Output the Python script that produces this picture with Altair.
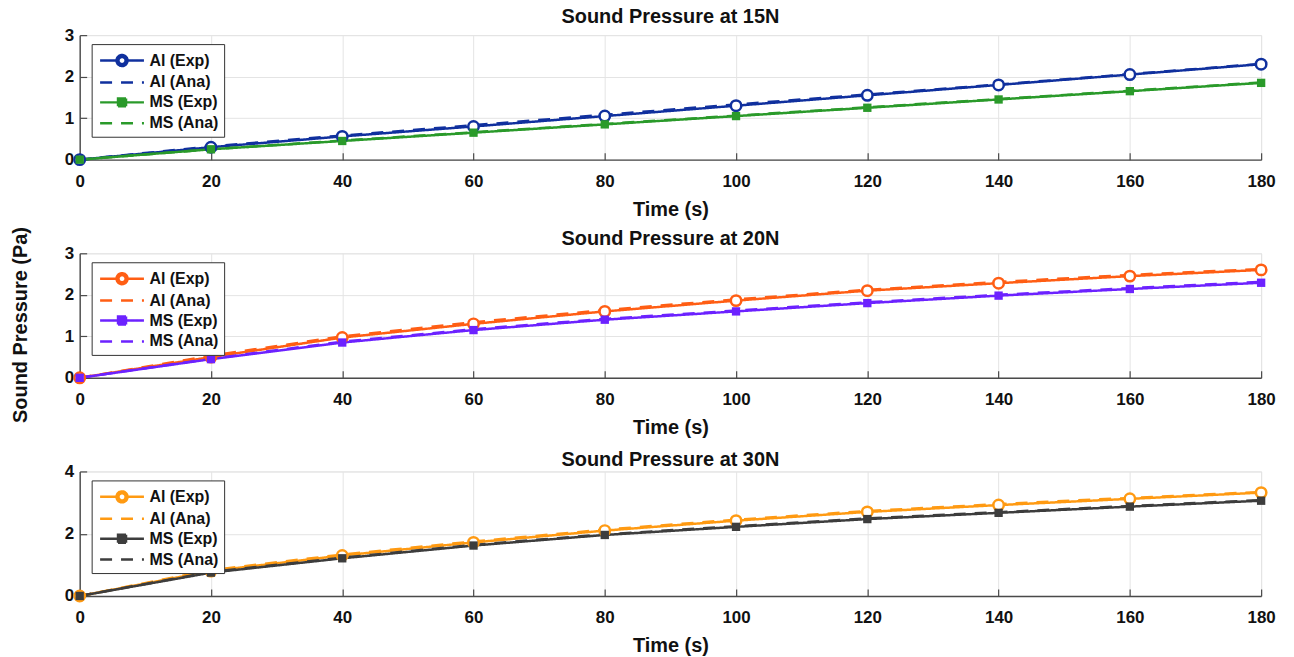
import altair as alt
import pandas as pd

# ---------------- data ----------------
time_s = [0, 20, 40, 60, 80, 100, 120, 140, 160, 180]
series_names = ["Al (Exp)", "Al (Ana)", "MS (Exp)", "MS (Ana)"]
panel_titles = ["Sound Pressure at 15N", "Sound Pressure at 20N", "Sound Pressure at 30N"]

al_exp_15 = [0, 0.30, 0.56, 0.80, 1.05, 1.30, 1.55, 1.80, 2.05, 2.30]
al_ana_15 = [0, 0.32, 0.58, 0.83, 1.08, 1.33, 1.57, 1.81, 2.06, 2.31]
ms_exp_15 = [0, 0.25, 0.45, 0.65, 0.85, 1.05, 1.25, 1.45, 1.65, 1.85]
ms_ana_15 = [0, 0.25, 0.46, 0.66, 0.86, 1.06, 1.26, 1.46, 1.66, 1.86]

al_exp_20 = [0, 0.50, 0.97, 1.30, 1.60, 1.86, 2.10, 2.28, 2.45, 2.60]
al_ana_20 = [0, 0.53, 1.00, 1.34, 1.63, 1.89, 2.12, 2.31, 2.48, 2.62]
ms_exp_20 = [0, 0.45, 0.85, 1.15, 1.40, 1.60, 1.80, 1.98, 2.14, 2.29]
ms_ana_20 = [0, 0.46, 0.87, 1.17, 1.42, 1.62, 1.82, 2.00, 2.16, 2.31]

al_exp_30 = [0, 0.80, 1.30, 1.72, 2.10, 2.42, 2.70, 2.92, 3.12, 3.32]
al_ana_30 = [0, 0.83, 1.33, 1.75, 2.13, 2.45, 2.73, 2.95, 3.15, 3.34]
ms_exp_30 = [0, 0.75, 1.21, 1.62, 1.96, 2.22, 2.47, 2.67, 2.87, 3.06]
ms_ana_30 = [0, 0.77, 1.23, 1.64, 1.98, 2.24, 2.49, 2.69, 2.89, 3.08]

x_ticks = [0, 20, 40, 60, 80, 100, 120, 140, 160, 180]
y_ticks = [[0, 1, 2, 3], [0, 1, 2, 3], [0, 2, 4]]
y_max = [3, 3, 4]

panel_colors = [
    ["#10309e", "#2a9a2a"],   # 15N: blue, green
    ["#ff5e14", "#6c22ff"],   # 20N: orange-red, violet
    ["#ff9a12", "#3d3d3d"],   # 30N: orange, dark gray
]

panel_values = [
    [al_exp_15, al_ana_15, ms_exp_15, ms_ana_15],
    [al_exp_20, al_ana_20, ms_exp_20, ms_ana_20],
    [al_exp_30, al_ana_30, ms_exp_30, ms_ana_30],
]

rows = []
for p, vals in enumerate(panel_values):
    for name, arr in zip(series_names, vals):
        for t, v in zip(time_s, arr):
            rows.append({"panel": p, "series": name, "time": t, "value": v})
df = pd.DataFrame(rows)

FONT = "Liberation Sans"
W, H = 1186, 125
title_dy = [0, 22, 7]

# legend symbols: line with marker (ring = two circles of opposite winding,
# square filled by nested strokes)
P_CIRCLE = ("M-2.2,0H-0.55M0.55,0H2.2"
            "M-0.55,0A0.55,0.55,0,1,1,0.55,0A0.55,0.55,0,1,1,-0.55,0Z"
            "M-0.36,0A0.36,0.36,0,1,0,0.36,0A0.36,0.36,0,1,0,-0.36,0Z")
P_LINE = "M-2.2,0H2.2"
P_SQUARE = ("M-2.2,0H2.2M-0.4,-0.4H0.4V0.4H-0.4Z"
            "M-0.22,-0.22H0.22V0.22H-0.22ZM-0.05,-0.05H0.05V0.05H-0.05Z")


def make_panel(p):
    c1, c2 = panel_colors[p]
    color_scale = alt.Scale(domain=series_names, range=[c1, c1, c2, c2])
    dash_scale = alt.Scale(domain=series_names, range=[[1, 0], [12, 9], [1, 0], [12, 9]])
    shape_scale = alt.Scale(domain=series_names, range=[P_CIRCLE, P_LINE, P_SQUARE, P_LINE])

    leg = alt.Legend(
        title=None, orient="none", legendX=12, legendY=9,
        labelFont=FONT, labelFontSize=16, labelFontWeight="bold", labelColor="#111111",
        symbolSize=400, symbolStrokeWidth=2.5, symbolOffset=14, labelOffset=16,
        symbolOpacity=1,
        rowPadding=0, padding=5, strokeColor="#333333", fillColor="white",
        labelLimit=200,
    )

    yaxis_kw = dict(values=y_ticks[p], grid=True, tickSize=alt.ExprRef("-7"),
                    labelPadding=13)
    if p == 1:
        yaxis_kw.update(title="Sound Pressure (Pa)", titlePadding=34, titleY=H / 2 + 9)
    else:
        yaxis_kw.update(title="")

    x = alt.X("time:Q", scale=alt.Scale(domain=[0, 180], nice=False),
              axis=alt.Axis(values=x_ticks, title="Time (s)", grid=True,
                            tickSize=alt.ExprRef("-7"), labelPadding=21, titlePadding=10,
                            labelFlush=False))
    y = alt.Y("value:Q", scale=alt.Scale(domain=[0, y_max[p]], nice=False),
              axis=alt.Axis(**yaxis_kw))

    base = alt.Chart(df).transform_filter(alt.datum.panel == p)

    legend_layer = base.transform_filter(alt.datum.time < 0).mark_point(
        filled=False, strokeWidth=2.5, size=400, opacity=1
    ).encode(
        x=x, y=y,
        shape=alt.Shape("series:N", scale=shape_scale, legend=leg),
        color=alt.Color("series:N", scale=color_scale, legend=leg),
        strokeDash=alt.StrokeDash("series:N", scale=dash_scale, legend=leg),
    )

    lines = base.mark_line(strokeWidth=2.5).encode(
        x=x, y=y,
        color=alt.Color("series:N", scale=color_scale, legend=None),
        strokeDash=alt.StrokeDash("series:N", scale=dash_scale, legend=None),
        detail="series:N",
    )
    pts_al = base.transform_filter(alt.datum.series == "Al (Exp)").mark_point(
        shape="circle", size=110, filled=False, fill="white", strokeWidth=2.5, opacity=1
    ).encode(x=x, y=y, color=alt.Color("series:N", scale=color_scale, legend=None))
    pts_ms = base.transform_filter(alt.datum.series == "MS (Exp)").mark_point(
        shape="square", size=70, filled=True, opacity=1
    ).encode(x=x, y=y, color=alt.Color("series:N", scale=color_scale, legend=None))

    return alt.layer(legend_layer, lines, pts_al, pts_ms).properties(
        width=W, height=H,
        title=alt.TitleParams(panel_titles[p], font=FONT, fontSize=20, fontWeight="bold",
                              anchor="middle", frame="group", offset=-1, dy=title_dy[p],
                              color="#111111"),
    )


chans = dict(color="independent", shape="independent", strokeDash="independent")
chart = alt.vconcat(*[make_panel(p) for p in range(3)], spacing=94,
                    bounds="flush").resolve_scale(
    **chans
).resolve_legend(**chans).properties(
    padding={"left": 10, "top": 5, "right": 18, "bottom": 0}
).configure_view(stroke="#e4e4e4").configure_axis(
    gridColor="#e4e4e4", gridWidth=1,
    domainColor="#4a4a4a", domainWidth=1.4, tickColor="#4a4a4a", tickWidth=1.2,
    labelFont=FONT, labelFontSize=17, labelFontWeight="bold", labelColor="#111111",
    titleFont=FONT, titleFontSize=20, titleFontWeight="bold", titleColor="#111111",
)

chart.save("out.html", embed_options={"renderer": "svg", "actions": False})
